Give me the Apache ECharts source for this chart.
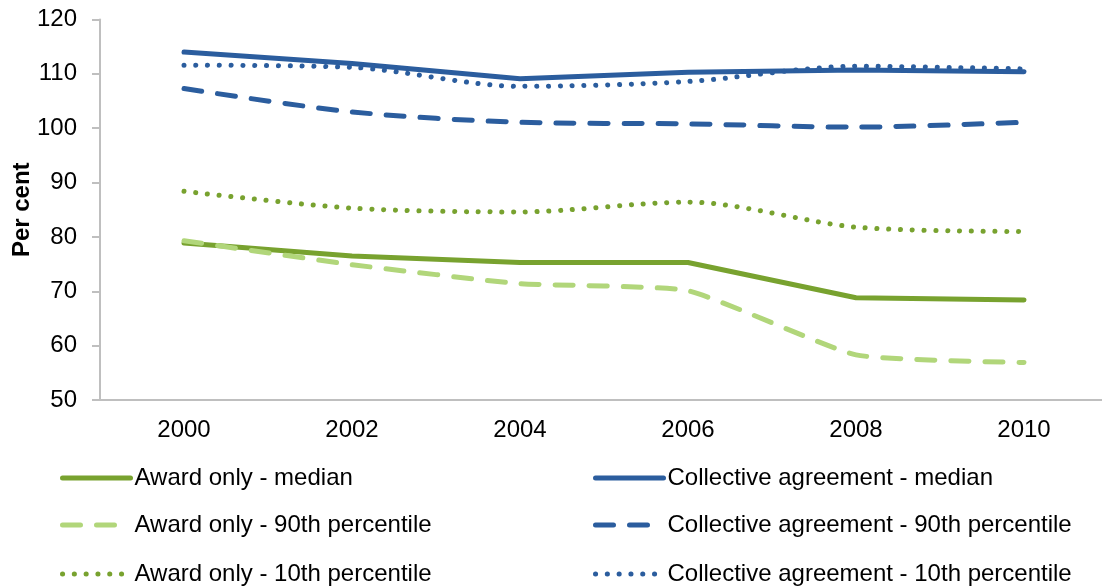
<!DOCTYPE html>
<html>
<head>
<meta charset="utf-8">
<script src="https://cdn.jsdelivr.net/npm/echarts@6/dist/echarts.min.js"></script>
<style>
html,body{margin:0;padding:0;background:#fff;}
#chart{width:1102px;height:587px;}
</style>
</head>
<body>
<div id="chart"></div>
<script>
const years = ['2000', '2002', '2004', '2006', '2008', '2010'];
const awardMedian = [78.9, 76.5, 75.3, 75.3, 68.8, 68.4];
const award90 = [79.3, 74.9, 71.4, 70.1, 58.3, 56.9];
const award10 = [88.4, 85.3, 84.6, 86.4, 81.8, 81.0];
const collMedian = [114.0, 111.9, 109.1, 110.3, 110.7, 110.4];
const coll90 = [107.3, 103.0, 101.1, 100.8, 100.2, 101.1];
const coll10 = [111.6, 111.2, 107.7, 108.6, 111.4, 110.9];
const yTicks = [50, 60, 70, 80, 90, 100, 110, 120];

const GREEN = '#78a22f';
const LIGHT = '#b1d67a';
const BLUE = '#2b5d9e';
const FONT = '"Liberation Sans", Arial, sans-serif';

const dashed = [18, 16];
const dotted = [0.1, 11.7];

const seriesDefs = [
  {name: 'Award only - median', data: awardMedian, color: GREEN, type: 'solid', smooth: false, width: 5},
  {name: 'Award only - 90th percentile', data: award90, color: LIGHT, type: dashed, smooth: 0.15, width: 5},
  {name: 'Award only - 10th percentile', data: award10, color: GREEN, type: dotted, smooth: 0.3, width: 5},
  {name: 'Collective agreement - median', data: collMedian, color: BLUE, type: 'solid', smooth: false, width: 5},
  {name: 'Collective agreement - 90th percentile', data: coll90, color: BLUE, type: dashed, smooth: 0.3, width: 5},
  {name: 'Collective agreement - 10th percentile', data: coll10, color: BLUE, type: dotted, smooth: 0.3, width: 5}
];

const legendPos = [
  {left: 60, top: 466},
  {left: 60, top: 513},
  {left: 60, top: 562},
  {left: 593, top: 466},
  {left: 593, top: 513},
  {left: 593, top: 562}
];

const chart = echarts.init(document.getElementById('chart'));
chart.setOption({
  animation: false,
  backgroundColor: '#fff',
  textStyle: {fontFamily: FONT},
  grid: {left: 100, top: 19.5, width: 1008, height: 380.5, containLabel: false, outerBoundsMode: 'none'},
  xAxis: {
    type: 'category',
    data: years,
    boundaryGap: true,
    axisLine: {lineStyle: {color: '#bfbfbf', width: 2}},
    axisTick: {show: false},
    axisLabel: {color: '#000', fontSize: 24, fontFamily: FONT, margin: 18}
  },
  yAxis: {
    type: 'value',
    min: 50, max: 120, interval: 10,
    name: 'Per cent',
    nameLocation: 'middle',
    nameGap: 66,
    nameMoveOverlap: false,
    nameTextStyle: {color: '#000', fontSize: 24, fontWeight: 'bold', fontFamily: FONT},
    axisLine: {show: true, lineStyle: {color: '#bfbfbf', width: 2}},
    axisTick: {show: true, length: 8, lineStyle: {color: '#bfbfbf', width: 2}},
    splitLine: {show: false},
    axisLabel: {color: '#000', fontSize: 24, fontFamily: FONT, margin: 23,
      formatter: v => yTicks.includes(v) ? String(v) : ''}
  },
  legend: seriesDefs.map((s, i) => ({
    data: [s.name],
    left: legendPos[i].left,
    top: legendPos[i].top,
    padding: 0,
    itemWidth: 68,
    itemHeight: 14,
    itemGap: 5,
    itemStyle: {opacity: 0},
    lineStyle: {color: s.color, width: 5, type: s.type, cap: 'round', opacity: 1},
    textStyle: {color: '#000', fontSize: 24, fontFamily: FONT, padding: [0, 0, 0, -1]}
  })),
  series: seriesDefs.map(s => ({
    name: s.name,
    type: 'line',
    data: s.data,
    smooth: s.smooth,
    symbol: 'none',
    color: s.color,
    lineStyle: {color: s.color, width: s.width, type: s.type, cap: 'round', join: 'round'}
  }))
});
</script>
</body>
</html>
